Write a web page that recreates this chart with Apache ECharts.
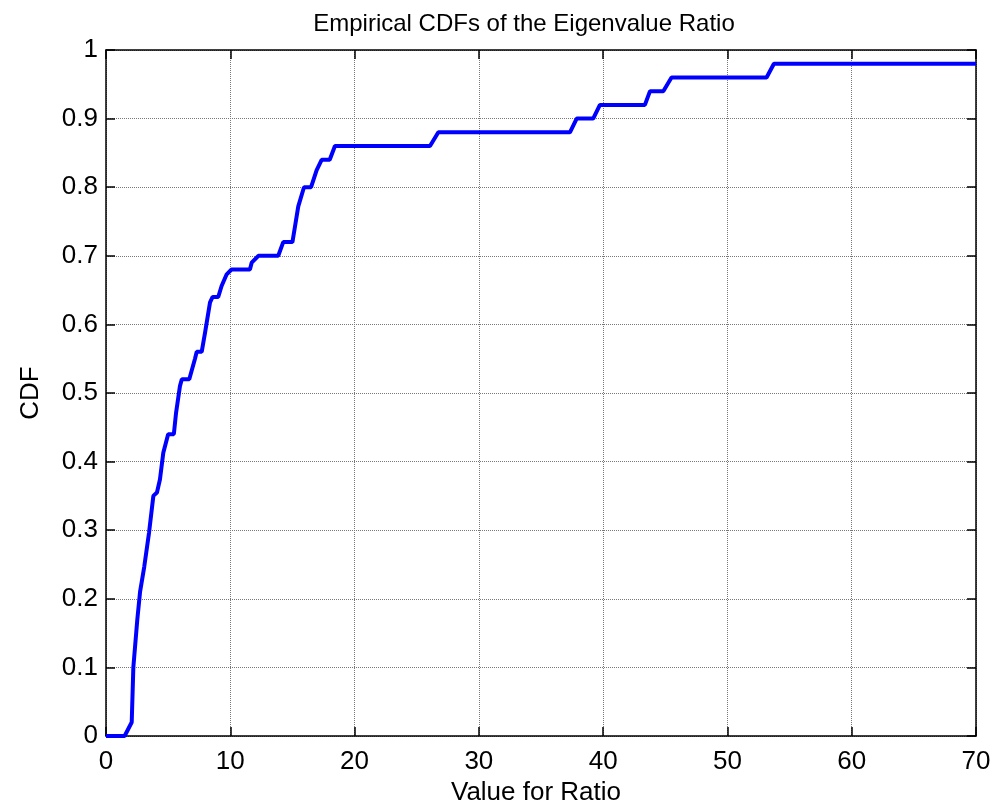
<!DOCTYPE html>
<html>
<head>
	<meta charset="utf-8" />
	<title>Empirical CDFs of the Eigenvalue Ratio</title>
	<script src="https://cdn.jsdelivr.net/npm/echarts@6/dist/echarts.min.js"></script>
	<style>
		html, body { margin: 0; padding: 0; background: #fff; }
	</style>
</head>
<body>
	<div id="main" style="width: 1003px;height: 807px;"></div>

	<script type="text/javascript">
		// ratio values (x) and CDF values (y)
		var ratioValues = [0, 1.5, 2.07, 2.2, 2.52, 2.74, 3.08, 3.46, 3.81, 4.1, 4.34, 4.61, 5.0, 5.46, 5.63, 5.95, 6.1, 6.7,
			7.16, 7.3, 7.7, 7.97, 8.37, 8.58, 9.03, 9.3, 9.71, 10.1, 11.58, 11.72, 12.26, 13.86, 14.26, 15.0, 15.2, 15.47,
			15.93, 16.5, 16.95, 17.35, 18.0, 18.42, 26.07, 26.74, 37.33, 37.87, 39.2, 39.74, 43.36, 43.77, 44.84, 45.5,
			53.15, 53.74, 70];
		var cdfValues = [0, 0, 0.02, 0.10, 0.17, 0.21, 0.247, 0.296, 0.35, 0.355, 0.374, 0.413, 0.44, 0.44, 0.47, 0.51, 0.52, 0.52,
			0.55, 0.56, 0.56, 0.588, 0.632, 0.64, 0.64, 0.656, 0.673, 0.68, 0.68, 0.69, 0.70, 0.70, 0.72, 0.72, 0.742, 0.772,
			0.80, 0.80, 0.825, 0.84, 0.84, 0.86, 0.86, 0.88, 0.88, 0.90, 0.90, 0.92, 0.92, 0.94, 0.94, 0.96,
			0.96, 0.98, 0.98];

		var xTicks = [0, 10, 20, 30, 40, 50, 60, 70];
		var yTicks = [0, 0.1, 0.2, 0.3, 0.4, 0.5, 0.6, 0.7, 0.8, 0.9, 1];

		var points = [];
		for (var i = 0; i < ratioValues.length; i++) {
			points.push([ratioValues[i], cdfValues[i]]);
		}

		var myChart = echarts.init(document.getElementById("main"));

		var fontName = '"Liberation Sans", Arial, sans-serif';
		var tick = { show: true, inside: true, length: 9, lineStyle: { color: '#000', width: 1.5 } };
		var line = { show: true, onZero: false, lineStyle: { color: '#000', width: 1.5 } };

		var option = {
			animation: false,
			backgroundColor: '#fff',
			title: {
				text: 'Empirical CDFs of the Eigenvalue Ratio',
				left: 519,
				top: 7,
				textAlign: 'center',
				textStyle: { fontFamily: fontName, fontSize: 24, fontWeight: 'normal', color: '#000' }
			},
			grid: { left: 106, right: 27, top: 50, bottom: 71, containLabel: false, outerBoundsMode: 'none' },
			xAxis: [{
				type: 'value',
				min: xTicks[0],
				max: xTicks[xTicks.length - 1],
				interval: 10,
				name: 'Value for Ratio',
				nameLocation: 'middle',
				nameGap: 44,
				nameTextStyle: { fontFamily: fontName, fontSize: 26, color: '#000', padding: [0, 10, 0, 0] },
				axisLine: line,
				axisTick: tick,
				axisLabel: { fontFamily: fontName, fontSize: 26, color: '#000', margin: 13 },
				splitLine: { show: true, lineStyle: { color: '#777', type: 'dotted', width: 1 } }
			}, {
				type: 'value',
				position: 'top',
				min: 0, max: 70, interval: 10,
				axisLine: line,
				axisTick: tick,
				axisLabel: { show: false },
				splitLine: { show: false }
			}],
			yAxis: [{
				type: 'value',
				min: yTicks[0],
				max: yTicks[yTicks.length - 1],
				interval: 0.1,
				name: 'CDF',
				nameLocation: 'middle',
				nameGap: 62,
				nameTextStyle: { fontFamily: fontName, fontSize: 26, color: '#000' },
				axisLine: line,
				axisTick: tick,
				axisLabel: {
					fontFamily: fontName, fontSize: 26, color: '#000', margin: 8,
					formatter: function (v) { return String(+v.toFixed(1)); }
				},
				splitLine: { show: true, lineStyle: { color: '#777', type: 'dotted', width: 1 } }
			}, {
				type: 'value',
				position: 'right',
				min: 0, max: 1, interval: 0.1,
				axisLine: line,
				axisTick: tick,
				axisLabel: { show: false },
				splitLine: { show: false }
			}],
			series: [{
				type: 'line',
				data: points,
				showSymbol: false,
				symbol: 'none',
				lineStyle: { color: '#0000ff', width: 4 },
				z: 5
			}]
		};

		myChart.setOption(option);
	</script>
</body>
</html>
